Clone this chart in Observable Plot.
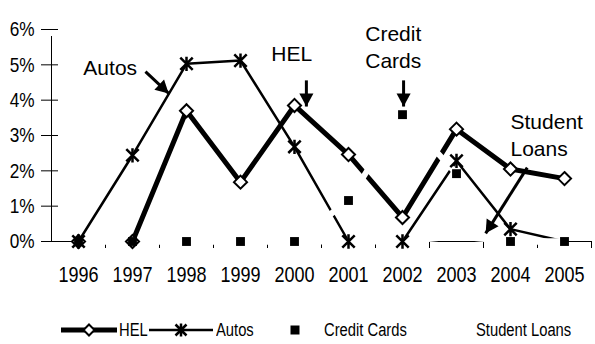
<!DOCTYPE html>
<html>
<head>
<meta charset="utf-8">
<script src="https://cdn.jsdelivr.net/npm/d3@7"></script>
<script src="https://cdn.jsdelivr.net/npm/@observablehq/plot@0.6"></script>
<style>
  html, body { margin: 0; padding: 0; background: #fff; }
  #wrap { width: 595px; height: 344px; position: relative; overflow: hidden; }
  #legend { position: absolute; left: 0; top: 300px; width: 595px; height: 44px; font-family: "Liberation Sans", Arial, sans-serif; font-size: 18px; color: #000; }
  #legend .item { position: absolute; top: 0; height: 44px; }
  #legend .lbl { position: absolute; top: 20px; line-height: 20px; white-space: nowrap; display: inline-block; transform: scaleX(0.82); transform-origin: 0 50%; }
</style>
</head>
<body>
<div id="wrap">
  <div id="chart"></div>
  <div id="legend"></div>
</div>
<script>
// ---- data ----
const years = [1996, 1997, 1998, 1999, 2000, 2001, 2002, 2003, 2004, 2005];
const hel = [0, 0, 3.70, 1.68, 3.85, 2.46, 0.68, 3.18, 2.05, 1.78];
const autos = [0, 2.44, 5.03, 5.12, 2.68, 0, 0, 2.28, 0.35, 0];
const autosMarkerShown = [true, true, true, true, true, true, true, true, true, false];
const creditCards = [0, 0, 0, 0, 0, 1.16, 3.59, 1.92, 0, 0];
const studentLoans = [0, 0, 0, 0, 0, 0, 0, 0.15, 0, 0];
const yTicks = [0, 1, 2, 3, 4, 5, 6];
const seriesNames = ["HEL", "Autos", "Credit Cards", "Student Loans"];

// annotations (data coordinates: year, percent)
const annoLabels = ["Autos", "HEL", "Credit\nCards", "Student\nLoans"];
const annoX = [1996.09, 1999.57, 2001.31, 2004.0];
const annoY = [4.70, 5.12, 4.92, 2.43];
const arrowX1 = [1997.24, 2000.22, 2002.02, 2004.31];
const arrowY1 = [4.81, 4.56, 4.56, 2.09];
const arrowX2 = [1997.67, 2000.22, 2002.02, 2003.54];
const arrowY2 = [4.19, 3.82, 3.82, 0.23];

// ---- layout ----
const W = 595, H = 300, mL = 51, mR = 4, mT = 29, mB = 59;
const xMin = d3.min(years) - 0.5, xMax = d3.max(years) + 0.5;
const yMax = d3.max(yTicks);
const pxPerX = (W - mL - mR) / (xMax - xMin);
const pxPerY = (H - mT - mB) / yMax;

// ---- tables built from arrays ----
const rows = years.map((y, i) => ({year: y, hel: hel[i], autos: autos[i], cc: creditCards[i], sl: studentLoans[i], showStar: autosMarkerShown[i]}));
const annos = annoLabels.map((t, i) => ({t, x: annoX[i], y: annoY[i]}));
const arrows = arrowX1.map((x1, i) => ({
  x1, y1: arrowY1[i], x2: arrowX2[i], y2: arrowY2[i],
  angle: Math.atan2(-(arrowY2[i] - arrowY1[i]) * pxPerY, (arrowX2[i] - x1) * pxPerX) * 180 / Math.PI
}));
const boundaries = years.map(y => y + 0.5);

// Excel-style star marker: X plus vertical bar
const starSymbol = {
  draw(context, size) {
    const r = Math.sqrt(size / Math.PI);
    context.moveTo(-r, -r); context.lineTo(r, r);
    context.moveTo(-r, r); context.lineTo(r, -r);
    context.moveTo(0, -r * 1.15); context.lineTo(0, r * 1.15);
  }
};
// filled arrowhead, tip at the origin, pointing to +x
const headSymbol = {
  draw(context, size) {
    const k = Math.sqrt(size / Math.PI) / 6;
    context.moveTo(0, 0);
    context.lineTo(-12 * k, -6.5 * k);
    context.lineTo(-12 * k, 6.5 * k);
    context.closePath();
  }
};

const chart = Plot.plot({
  width: W,
  height: H,
  marginLeft: mL,
  marginRight: mR,
  marginTop: mT,
  marginBottom: mB,
  style: {fontFamily: '"Liberation Sans", Arial, sans-serif', fontSize: "19px", color: "#000", background: "#fff", overflow: "visible"},
  x: {domain: [xMin, xMax]},
  y: {domain: [0, yMax]},
  marks: [
    // axes
    Plot.ruleY([0], {stroke: "#000", strokeWidth: 1}),
    Plot.ruleX([xMin], {y1: 0, y2: yMax, stroke: "#000", strokeWidth: 1, insetBottom: -7}),
    Plot.axisY({ticks: yTicks, tickFormat: d => d + "%", tickSize: 17, dx: 7, tickPadding: 7, fontSize: 21, stroke: "#000"}),
    Plot.axisX({ticks: boundaries, tickSize: 7, tickFormat: () => "", stroke: "#000"}),
    Plot.axisX({ticks: years, tickSize: 0, tickPadding: 25, tickFormat: d => String(d), fontSize: 22}),
    // series lines
    Plot.line(rows, {x: "year", y: "hel", stroke: "#000", strokeWidth: 5, strokeLinejoin: "miter"}),
    Plot.line(rows, {x: "year", y: "autos", stroke: "#000", strokeWidth: 2.5}),
    Plot.line(rows, {x: "year", y: "cc", stroke: "#fff", strokeWidth: 6}),
    Plot.line(rows, {x: "year", y: "sl", stroke: "#fff", strokeWidth: 6}),
    // markers
    Plot.dot(rows, {x: "year", y: "hel", symbol: "diamond2", r: 5.9, fill: "#fff", stroke: "#000", strokeWidth: 2}),
    Plot.dot(rows, {filter: "showStar", x: "year", y: "autos", symbol: starSymbol, r: 6.2, fill: "none", stroke: "#000", strokeWidth: 2.5}),
    Plot.dot(rows, {x: "year", y: "cc", symbol: "square", r: 5, fill: "#000", stroke: "none"}),
    // annotations
    Plot.link(arrows, {x1: "x1", y1: "y1", x2: "x2", y2: "y2", stroke: "#000", strokeWidth: 3, strokeLinecap: "butt"}),
    Plot.dot(arrows, {x: "x2", y: "y2", symbol: headSymbol, r: 6.5, rotate: "angle", fill: "#000", stroke: "none"}),
    Plot.text(annos, {x: "x", y: "y", text: "t", textAnchor: "start", lineAnchor: "bottom", lineHeight: 1.29, fontSize: 21, fill: "#000"})
  ]
});
document.getElementById("chart").appendChild(chart);

// condense axis tick labels (Arial Narrow look): horizontal scale about each label's anchor
const K = 0.82;
d3.select(chart).selectAll('g[aria-label$="tick label"] text').each(function() {
  const t = d3.select(this);
  const tr = t.attr("transform") || "";
  const x = t.attr("x");
  if (x != null && !String(x).endsWith("em")) t.attr("x", +x / K);
  t.attr("transform", tr + ` scale(${K},1)`);
});

// ---- legend (HTML below the SVG) ----
const legend = document.getElementById("legend");
const cy = 30;
const sw = (left, width, inner) => `<svg class="item" style="left:${left}px" width="${width}" height="44">${inner}</svg>`;
const lbl = (left, text) => `<div class="lbl" style="left:${left}px">${text}</div>`;
legend.innerHTML =
  sw(60, 60, `<line x1="1" x2="57" y1="${cy}" y2="${cy}" stroke="#000" stroke-width="5"/>
              <path d="M29,${cy-5.5} L34.5,${cy} L29,${cy+5.5} L23.5,${cy} Z" fill="#fff" stroke="#000" stroke-width="2"/>`) +
  lbl(119, seriesNames[0]) +
  sw(149, 66, `<line x1="0" x2="64" y1="${cy}" y2="${cy}" stroke="#000" stroke-width="2.5"/>
               <path d="M26.5,${cy-5.5} L37.5,${cy+5.5} M26.5,${cy+5.5} L37.5,${cy-5.5} M32,${cy-6.5} L32,${cy+6.5}" stroke="#000" stroke-width="2.5" fill="none"/>`) +
  lbl(216, seriesNames[1]) +
  sw(285, 20, `<rect x="5.5" y="${cy-4.5}" width="9" height="9" fill="#000"/>`) +
  lbl(324, seriesNames[2]) +
  lbl(476, seriesNames[3]);
</script>
</body>
</html>
